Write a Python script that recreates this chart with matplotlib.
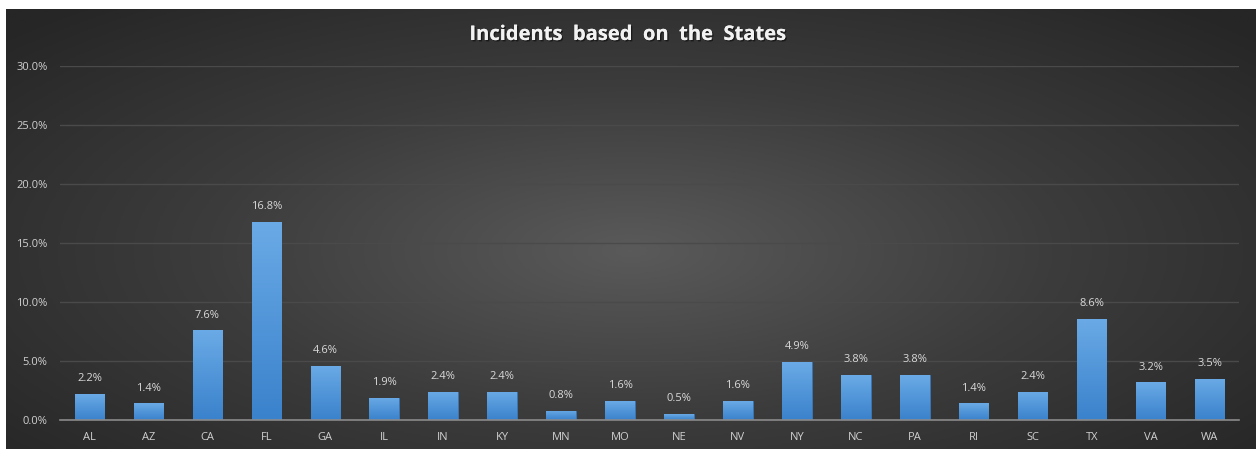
import numpy as np
import matplotlib.pyplot as plt
import matplotlib.patheffects as pe
from matplotlib.colors import LinearSegmentedColormap

states = ['AL', 'AZ', 'CA', 'FL', 'GA', 'IL', 'IN', 'KY', 'MN', 'MO',
          'NE', 'NV', 'NY', 'NC', 'PA', 'RI', 'SC', 'TX', 'VA', 'WA']
pct = [2.2, 1.4, 7.6, 16.8, 4.6, 1.9, 2.4, 2.4, 0.8, 1.6,
       0.5, 1.6, 4.9, 3.8, 3.8, 1.4, 2.4, 8.6, 3.2, 3.5]
yticks = [0, 5, 10, 15, 20, 25, 30]

plt.rcParams['font.family'] = ['Open Sans', 'DejaVu Sans']

W, H = 1256, 449
fig = plt.figure(figsize=(W / 100, H / 100), dpi=100)
fig.patch.set_facecolor('white')

# radial gradient background (white strip at top and left like the screenshot)
bg = fig.add_axes([6 / W, 0, 1 - 6 / W, 1 - 9 / H])
yy, xx = np.mgrid[-1:1:300j, -1:1:900j]
r = np.sqrt(xx ** 2 + ((yy - 0.1) * 0.9) ** 2)
bgcmap = LinearSegmentedColormap.from_list('bg', ['#5a5a5a', '#3c3c3c', '#262626'])
bg.imshow(r, cmap=bgcmap, vmin=0, vmax=1.35, aspect='auto', extent=[0, 1, 0, 1])
bg.set_axis_off()

ax = fig.add_axes([60 / W, 1 - 420 / H, (1239 - 60) / W, (420 - 66) / H])
ax.patch.set_alpha(0)

x = np.arange(len(states))
bars = ax.bar(x, pct, width=0.5, color='#4a90d9', edgecolor='#3a78b8', linewidth=0.6, zorder=3)

# vertical blue gradient on each bar
barcmap = LinearSegmentedColormap.from_list('bar', ['#3a82cc', '#6aaae6'])
grad = np.linspace(0, 1, 100).reshape(-1, 1)
for b in bars:
    x0, w, h = b.get_x(), b.get_width(), b.get_height()
    im = ax.imshow(grad, cmap=barcmap, origin='lower', aspect='auto',
                   extent=[x0, x0 + w, 0, h], zorder=3.5)
    im.set_clip_path(b)

for xi, v in zip(x, pct):
    ax.annotate(f'{v:.1f}%', (xi, v), xytext=(0, 7), textcoords='offset points',
                ha='center', va='bottom', color='#d9d9d9', fontsize=8, zorder=5)

ax.set_xlim(-0.5, len(states) - 0.5)
ax.set_ylim(0, 30)
ax.set_yticks(yticks)
ax.set_yticklabels([f'{t:.1f}%' for t in yticks])
ax.set_xticks(x)
ax.set_xticklabels(states)
ax.tick_params(axis='both', length=0, colors='#d0d0d0', labelsize=8)
ax.tick_params(axis='x', pad=9)
ax.tick_params(axis='y', pad=9)
ax.grid(axis='y', color='#4a4a4a', linewidth=1, zorder=0)
for s in ['top', 'right', 'left']:
    ax.spines[s].set_visible(False)
ax.spines['bottom'].set_color('#8a8a8a')
ax.spines['bottom'].set_linewidth(1.2)
ax.spines['bottom'].set_zorder(4)

fig.text(0.5, 1 - 35 / H, 'Incidents  based  on  the  States', ha='center', va='center',
         color='#f2f2f2', fontsize=14.5, fontweight='bold',
         path_effects=[pe.withSimplePatchShadow(offset=(1, -1), shadow_rgbFace='black', alpha=0.5),
                       pe.Normal()])

fig.savefig('out.png', dpi=100, facecolor=fig.get_facecolor())
